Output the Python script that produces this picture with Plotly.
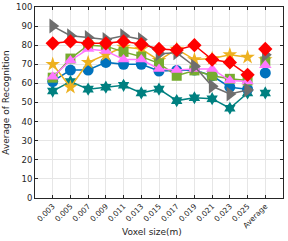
import plotly.graph_objects as go

categories = ["0.003", "0.005", "0.007", "0.009", "0.011", "0.013", "0.015",
              "0.017", "0.019", "0.021", "0.023", "0.025", "Average"]

gray_vals = [90, 85, 84, 83, 85, 83, 75.5, 76, 69, 58.5, 54.5, 56.5, 75]
red_vals = [81, 82, 81, 81, 82, 80.5, 78, 77.5, 80, 72.5, 71, 64.5, 78]
green_vals = [63, 73, 80, 79.5, 76.5, 74, 70.5, 64, 66.8, 64, 62.4, 61.5, 71.5]
pink_vals = [63.5, 72, 78, 77, 72.5, 72.5, 67.5, 67, 67.6, 67.6, 61.5, 61, 69.5]
orange_vals = [70, 58, 71, 75, 79, 78, 72, 78, 72.5, 73, 75, 73.7, 72.5]
blue_vals = [61, 67, 67, 71, 70, 70, 66.5, 66.8, 67, 64, 58, 57, 65.5]
teal_vals = [56, 61, 57, 58, 59, 55, 57, 51, 52.5, 52, 47, 55, 55]

series = [
    (teal_vals, "#008080", "hexagram", 10),
    (blue_vals, "#0072BD", "circle", 11),
    (orange_vals, "#EDB120", "star", 11),
    (green_vals, "#77AC30", "square", 10),
    (pink_vals, "#FF77FF", "triangle-up", 11),
    (gray_vals, "#6E6E6E", "triangle-right", 13),
    (red_vals, "#FF0000", "diamond", 11),
]

fig = go.Figure()
for vals, color, sym, size in series:
    fig.add_trace(go.Scatter(
        x=categories[:-1], y=vals[:-1], mode="lines+markers",
        line=dict(color=color, width=1.5),
        marker=dict(symbol=sym, size=size, color=color),
        showlegend=False, hoverinfo="skip"))
    fig.add_trace(go.Scatter(
        x=categories[-1:], y=vals[-1:], mode="markers",
        marker=dict(symbol=sym, size=size, color=color),
        showlegend=False, hoverinfo="skip"))

font = "DejaVu Sans, Arial, sans-serif"
fig.update_layout(
    width=288, height=241,
    margin=dict(l=35, r=5, t=7, b=43),
    paper_bgcolor="white", plot_bgcolor="white",
    font=dict(family=font, size=8, color="#262626"),
    xaxis=dict(
        type="category", categoryorder="array", categoryarray=categories,
        range=[-1, 13], tickangle=-45,
        showgrid=True, gridcolor="#E6E6E6", gridwidth=1,
        showline=True, linecolor="#262626", linewidth=1, mirror="ticks",
        ticks="inside", ticklen=3, tickcolor="#262626",
        tickfont=dict(size=7.5),
        automargin=False,
    ),
    yaxis=dict(
        range=[0, 100], dtick=10,
        showgrid=True, gridcolor="#E6E6E6", gridwidth=1,
        showline=True, linecolor="#262626", linewidth=1, mirror="ticks",
        ticks="inside", ticklen=3, tickcolor="#262626",
        zeroline=False,
        tickfont=dict(size=8.5),
        automargin=False,
        title=dict(text="Average of Recognition", font=dict(size=9), standoff=4),
    ),
    annotations=[dict(
        text="Voxel size(m)", xref="paper", yref="paper",
        x=0.47, y=-0.14, xanchor="center", yanchor="top",
        showarrow=False, font=dict(size=9, color="#262626"))],
)

fig.write_html("out.html",
               config={"displayModeBar": False},
               post_script="document.body.style.margin='0';document.body.style.overflow='hidden';")
